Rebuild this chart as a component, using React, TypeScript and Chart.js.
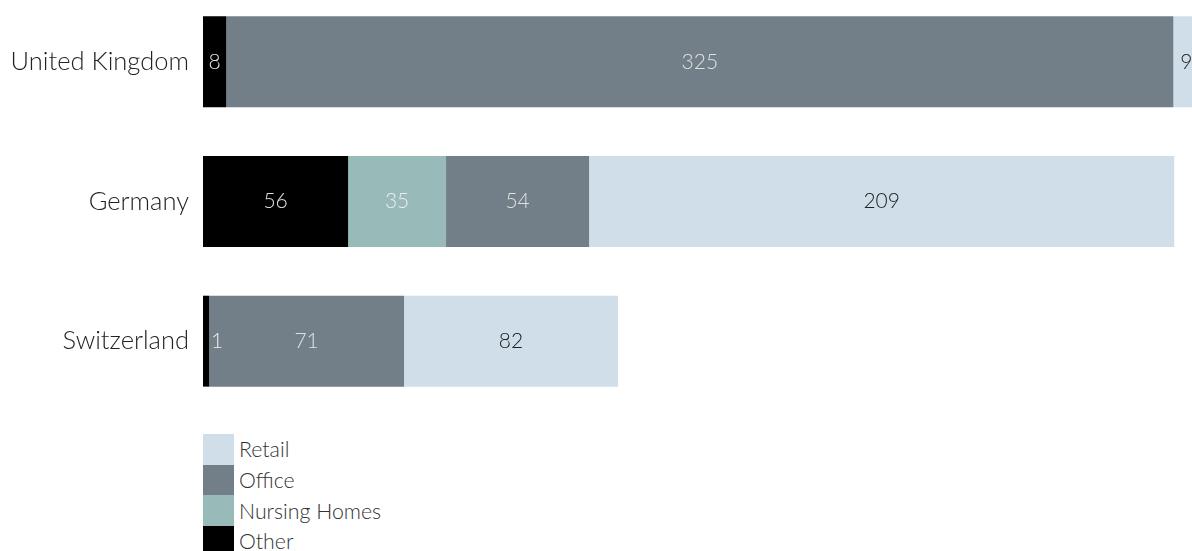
import React, { useEffect, useRef } from "react";
import { Chart, registerables } from "chart.js";

Chart.register(...registerables);

const categories = ["United Kingdom", "Germany", "Switzerland"];
const seriesNames = ["Other", "Nursing Homes", "Office", "Retail"];
const seriesColors = ["#000000", "#98bab8", "#727f88", "#d0deea"];
const labelColors = ["#e0e0e0", "#eeeeee", "#e0e0e0", "#222222"];

// bar lengths as drawn in the picture
const otherValues = [8, 49.8, 2.1];
const nursingValues = [0, 33.6, 0];
const officeValues = [325, 49.1, 66.9];
const retailValues = [9, 200.8, 73.4];

// numbers printed on the bars
const otherLabels = ["8", "56", "1"];
const nursingLabels = ["", "35", ""];
const officeLabels = ["325", "54", "71"];
const retailLabels = ["9", "209", "82"];

const xMax = 339.4;

const seriesValues = [otherValues, nursingValues, officeValues, retailValues];
const seriesLabels = [otherLabels, nursingLabels, officeLabels, retailLabels];

const FONT = "Lato, 'Open Sans', sans-serif";

const labelPlugin = {
  id: "barLabels",
  afterDatasetsDraw(chart: any) {
    const ctx = chart.ctx;
    ctx.save();
    ctx.font = `300 21px ${FONT}`;
    ctx.textBaseline = "middle";
    chart.data.datasets.forEach((ds: any, di: number) => {
      const meta = chart.getDatasetMeta(di);
      meta.data.forEach((el: any, i: number) => {
        const txt = seriesLabels[di][i];
        if (!txt) return;
        const start = Math.min(el.base, el.x);
        const end = Math.max(el.base, el.x);
        const w = end - start;
        const tw = ctx.measureText(txt).width;
        ctx.fillStyle = labelColors[di];
        if (tw + 4 > w) {
          ctx.textAlign = "left";
          ctx.fillStyle = labelColors[di + 1] ?? labelColors[di];
          ctx.fillText(txt, end + 2, el.y);
        } else {
          ctx.textAlign = "center";
          ctx.fillText(txt, (start + end) / 2, el.y);
        }
      });
    });
    ctx.restore();
  },
};

export default function App() {
  const ref = useRef<HTMLCanvasElement | null>(null);

  useEffect(() => {
    if (!ref.current) return;
    const chart = new Chart(ref.current, {
      type: "bar",
      data: {
        labels: categories,
        datasets: seriesNames.map((name, i) => ({
          label: name,
          data: seriesValues[i],
          backgroundColor: seriesColors[i],
          borderWidth: 0,
          barPercentage: 0.651,
          categoryPercentage: 1,
        })),
      },
      options: {
        indexAxis: "y",
        animation: false,
        responsive: true,
        maintainAspectRatio: false,
        layout: { padding: 0 },
        plugins: {
          legend: { display: false },
          tooltip: { enabled: false },
        },
        scales: {
          x: {
            stacked: true,
            display: false,
            min: 0,
            max: xMax,
          },
          y: {
            stacked: true,
            grid: { display: false, drawTicks: false },
            border: { display: false },
            ticks: {
              color: "#222222",
              padding: 14,
              font: { family: FONT, size: 25.5, weight: "300" as any },
            },
            afterFit(scale: any) {
              scale.width = 203;
              scale.paddingTop = 0;
              scale.paddingBottom = 0;
            },
          },
        },
      },
      plugins: [labelPlugin],
    });
    return () => chart.destroy();
  }, []);

  const legendItems = [3, 2, 1, 0];

  return (
    <div
      style={{
        position: "fixed",
        left: 0,
        top: 0,
        width: 1192,
        height: 551,
        overflow: "hidden",
        background: "#ffffff",
      }}
    >
      <div style={{ position: "absolute", left: 0, top: -8.4, width: 1192, height: 419 }}>
        <canvas ref={ref} />
      </div>
      <div style={{ position: "absolute", left: 203, top: 434, fontFamily: FONT }}>
        {legendItems.map((i) => (
          <div key={i} style={{ display: "flex", alignItems: "center", height: 30.67 }}>
            <div style={{ width: 31, height: 30.67, background: seriesColors[i] }} />
            <span
              style={{
                marginLeft: 5,
                fontSize: 21.3,
                fontWeight: 300,
                color: "#333333",
                lineHeight: "30px",
              }}
            >
              {seriesNames[i]}
            </span>
          </div>
        ))}
      </div>
    </div>
  );
}
